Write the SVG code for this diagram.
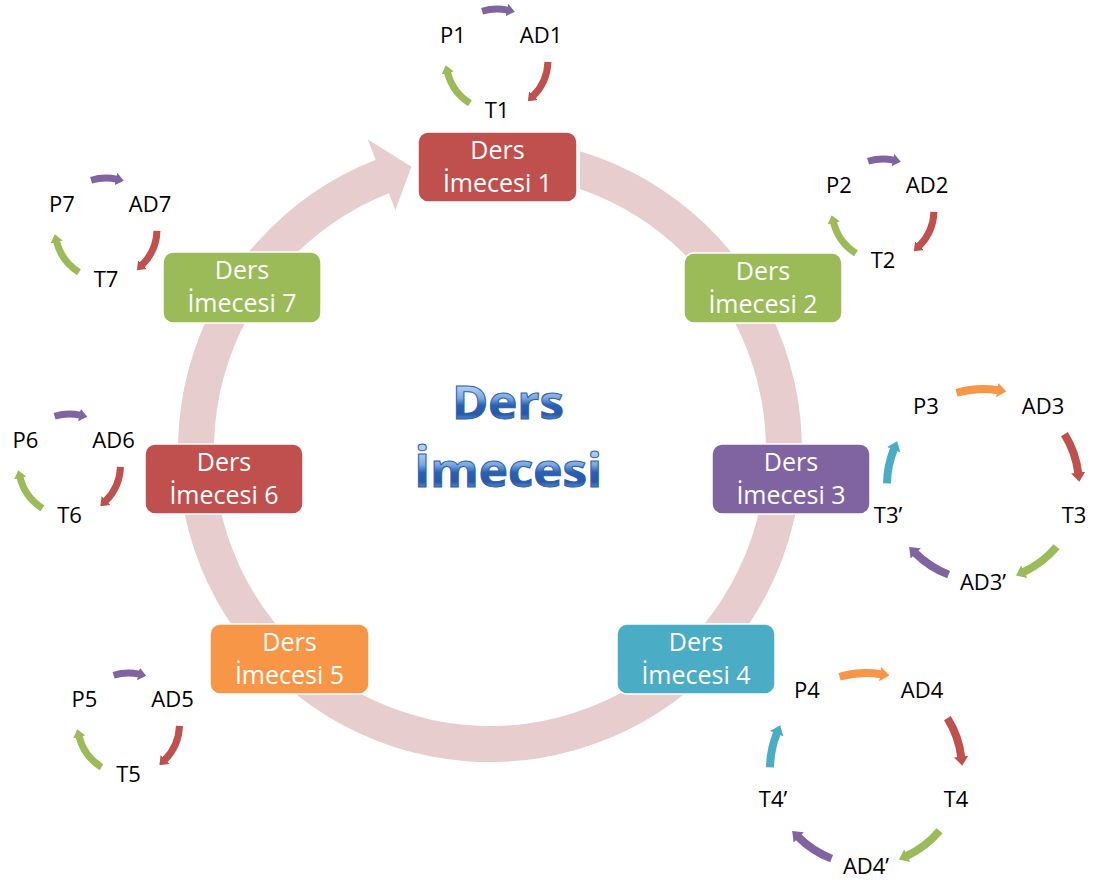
<svg xmlns="http://www.w3.org/2000/svg" xmlns:xlink="http://www.w3.org/1999/xlink" width="1094" height="884" viewBox="0 0 1094 884">
  <style>
    .box rect { stroke: #ffffff; stroke-width: 1.5; }
    .box text { font-family: "Open Sans", "Liberation Sans", sans-serif; font-size: 25px; fill: #ffffff; text-anchor: middle; }
    .lbl text { font-family: "Open Sans", "Liberation Sans", sans-serif; font-size: 22px; fill: #000000; text-anchor: middle; }
    .arc7 { fill: none; stroke-width: 7; }
    .arc8 { fill: none; stroke-width: 8; }
    .title { font-family: "Open Sans", "Liberation Sans", sans-serif; font-weight: bold; font-size: 46px; text-anchor: middle; stroke: #2E5FA8; stroke-width: 1; }
  </style>
  <defs>
    <!-- arrowheads scale with stroke width -->
    <marker id="ah-purple" viewBox="0 0 1.15 1.8" refX="0.1" refY="0.9" markerWidth="1.15" markerHeight="1.8" orient="auto"><path d="M0,0 L1.15,0.9 L0,1.8 Z" fill="#8064A2"/></marker>
    <marker id="ah-red" viewBox="0 0 1.15 1.8" refX="0.1" refY="0.9" markerWidth="1.15" markerHeight="1.8" orient="auto"><path d="M0,0 L1.15,0.9 L0,1.8 Z" fill="#C0504D"/></marker>
    <marker id="ah-green" viewBox="0 0 1.15 1.8" refX="0.1" refY="0.9" markerWidth="1.15" markerHeight="1.8" orient="auto"><path d="M0,0 L1.15,0.9 L0,1.8 Z" fill="#9BBB59"/></marker>
    <marker id="ah-orange" viewBox="0 0 1.15 1.8" refX="0.1" refY="0.9" markerWidth="1.15" markerHeight="1.8" orient="auto"><path d="M0,0 L1.15,0.9 L0,1.8 Z" fill="#F79646"/></marker>
    <marker id="ah-teal" viewBox="0 0 1.15 1.8" refX="0.1" refY="0.9" markerWidth="1.15" markerHeight="1.8" orient="auto"><path d="M0,0 L1.15,0.9 L0,1.8 Z" fill="#4BACC6"/></marker>

    <linearGradient id="g-ders" gradientUnits="userSpaceOnUse" x1="0" y1="386" x2="0" y2="421">
      <stop offset="0" stop-color="#B3D1F5"/>
      <stop offset="0.35" stop-color="#7AA7E2"/>
      <stop offset="0.55" stop-color="#2A60B2"/>
      <stop offset="0.8" stop-color="#2758A9"/>
      <stop offset="1" stop-color="#5E93DA"/>
    </linearGradient>
    <linearGradient id="g-imecesi" gradientUnits="userSpaceOnUse" x1="0" y1="452" x2="0" y2="489">
      <stop offset="0" stop-color="#B3D1F5"/>
      <stop offset="0.35" stop-color="#7AA7E2"/>
      <stop offset="0.55" stop-color="#2A60B2"/>
      <stop offset="0.8" stop-color="#2758A9"/>
      <stop offset="1" stop-color="#5E93DA"/>
    </linearGradient>

    <!-- three-step loop: P -> AD -> T -> P -->
    <g id="loop3">
      <path class="arc7" stroke="#8064A2" marker-end="url(#ah-purple)" d="M-14.91,-48.77 A51,51 0 0 1 10.60,-49.88"/>
      <path class="arc7" stroke="#C0504D" marker-end="url(#ah-red)" d="M50.97,1.78 A51,51 0 0 1 36.06,36.06"/>
      <path class="arc7" stroke="#9BBB59" marker-end="url(#ah-green)" d="M-27.03,43.25 A51,51 0 0 1 -49.49,12.34"/>
    </g>
    <!-- five-step loop: P -> AD -> T -> AD' -> T' -> P -->
    <g id="loop5">
      <path class="arc8" stroke="#F79646" marker-end="url(#ah-orange)" d="M-26.46,-92.28 A96,96 0 0 1 15.02,-94.82"/>
      <path class="arc8" stroke="#C0504D" marker-end="url(#ah-red)" d="M81.41,-50.87 A96,96 0 0 1 95.28,-11.70"/>
      <path class="arc8" stroke="#9BBB59" marker-end="url(#ah-green)" d="M73.54,61.71 A96,96 0 0 1 40.57,87.00"/>
      <path class="arc8" stroke="#8064A2" marker-end="url(#ah-purple)" d="M-34.40,89.63 A96,96 0 0 1 -67.88,67.88"/>
      <path class="arc8" stroke="#4BACC6" marker-end="url(#ah-teal)" d="M-95.99,-1.68 A96,96 0 0 1 -89.01,-35.96"/>
    </g>
  </defs>

  <rect width="1094" height="884" fill="#ffffff"/>

  <g id="connectors">
    <!-- big clockwise block arrow behind the seven boxes -->
    <path id="main-cycle" fill="#E7CDCE" d="M580,151.3 A312,312 0 1 1 375.7,159.7 L367.6,139.2 L411.4,166.7 L395.4,210 L388.8,193.2 A276,276 0 1 0 580,189.1 Z"/>
    <use xlink:href="#loop3" href="#loop3" transform="translate(497,60)"/>
    <use xlink:href="#loop3" href="#loop3" transform="translate(883,210)"/>
    <use xlink:href="#loop5" href="#loop5" transform="translate(983,485)"/>
    <use xlink:href="#loop5" href="#loop5" transform="translate(866,769)"/>
    <use xlink:href="#loop3" href="#loop3" transform="translate(128.5,724)"/>
    <use xlink:href="#loop3" href="#loop3" transform="translate(69.5,465)"/>
    <use xlink:href="#loop3" href="#loop3" transform="translate(106,229)"/>
  </g>

  <g id="node-1" class="box">
    <rect x="418" y="132" width="159" height="70" rx="10" fill="#C0504D"/>
    <text x="497.5" y="159">Ders</text>
    <text x="497.5" y="192">İmecesi 1</text>
  </g>
  <g id="node-2" class="box">
    <rect x="684" y="253" width="158" height="70" rx="10" fill="#9BBB59"/>
    <text x="763" y="280">Ders</text>
    <text x="763" y="313">İmecesi 2</text>
  </g>
  <g id="node-3" class="box">
    <rect x="712" y="444" width="158" height="70" rx="10" fill="#8064A2"/>
    <text x="791" y="471">Ders</text>
    <text x="791" y="504">İmecesi 3</text>
  </g>
  <g id="node-4" class="box">
    <rect x="617" y="624" width="158" height="70" rx="10" fill="#4BACC6"/>
    <text x="696" y="651">Ders</text>
    <text x="696" y="684">İmecesi 4</text>
  </g>
  <g id="node-5" class="box">
    <rect x="210" y="624" width="159" height="70" rx="10" fill="#F79646"/>
    <text x="289.5" y="651">Ders</text>
    <text x="289.5" y="684">İmecesi 5</text>
  </g>
  <g id="node-6" class="box">
    <rect x="145" y="444" width="158" height="70" rx="10" fill="#C0504D"/>
    <text x="224" y="471">Ders</text>
    <text x="224" y="504">İmecesi 6</text>
  </g>
  <g id="node-7" class="box">
    <rect x="163" y="252" width="158" height="71" rx="10" fill="#9BBB59"/>
    <text x="242" y="279">Ders</text>
    <text x="242" y="312">İmecesi 7</text>
  </g>

  <g id="title">
    <text class="title" x="508" y="419" fill="url(#g-ders)" textLength="112" lengthAdjust="spacingAndGlyphs">Ders</text>
    <text class="title" x="508" y="487" fill="url(#g-imecesi)" textLength="188" lengthAdjust="spacingAndGlyphs">İmecesi</text>
  </g>

  <g id="loop-1" class="lbl" transform="translate(497,60)">
    <text x="-44" y="-17">P1</text>
    <text x="44" y="-17">AD1</text>
    <text x="0" y="58">T1</text>
  </g>
  <g id="loop-2" class="lbl" transform="translate(883,210)">
    <text x="-44" y="-17">P2</text>
    <text x="44" y="-17">AD2</text>
    <text x="0" y="58">T2</text>
  </g>
  <g id="loop-3" class="lbl" transform="translate(983,485)">
    <text x="-57" y="-70.7">P3</text>
    <text x="60" y="-70.7">AD3</text>
    <text x="91" y="37.8">T3</text>
    <text x="0" y="104.8">AD3’</text>
    <text x="-95" y="37.8">T3’</text>
  </g>
  <g id="loop-4" class="lbl" transform="translate(866,769)">
    <text x="-59" y="-70.7">P4</text>
    <text x="56" y="-70.7">AD4</text>
    <text x="90" y="37.8">T4</text>
    <text x="0" y="104.8">AD4’</text>
    <text x="-93" y="37.8">T4’</text>
  </g>
  <g id="loop-5" class="lbl" transform="translate(128.5,724)">
    <text x="-44" y="-17">P5</text>
    <text x="44" y="-17">AD5</text>
    <text x="0" y="58">T5</text>
  </g>
  <g id="loop-6" class="lbl" transform="translate(69.5,465)">
    <text x="-44" y="-17">P6</text>
    <text x="44" y="-17">AD6</text>
    <text x="0" y="58">T6</text>
  </g>
  <g id="loop-7" class="lbl" transform="translate(106,229)">
    <text x="-44" y="-17">P7</text>
    <text x="44" y="-17">AD7</text>
    <text x="0" y="58">T7</text>
  </g>
</svg>
